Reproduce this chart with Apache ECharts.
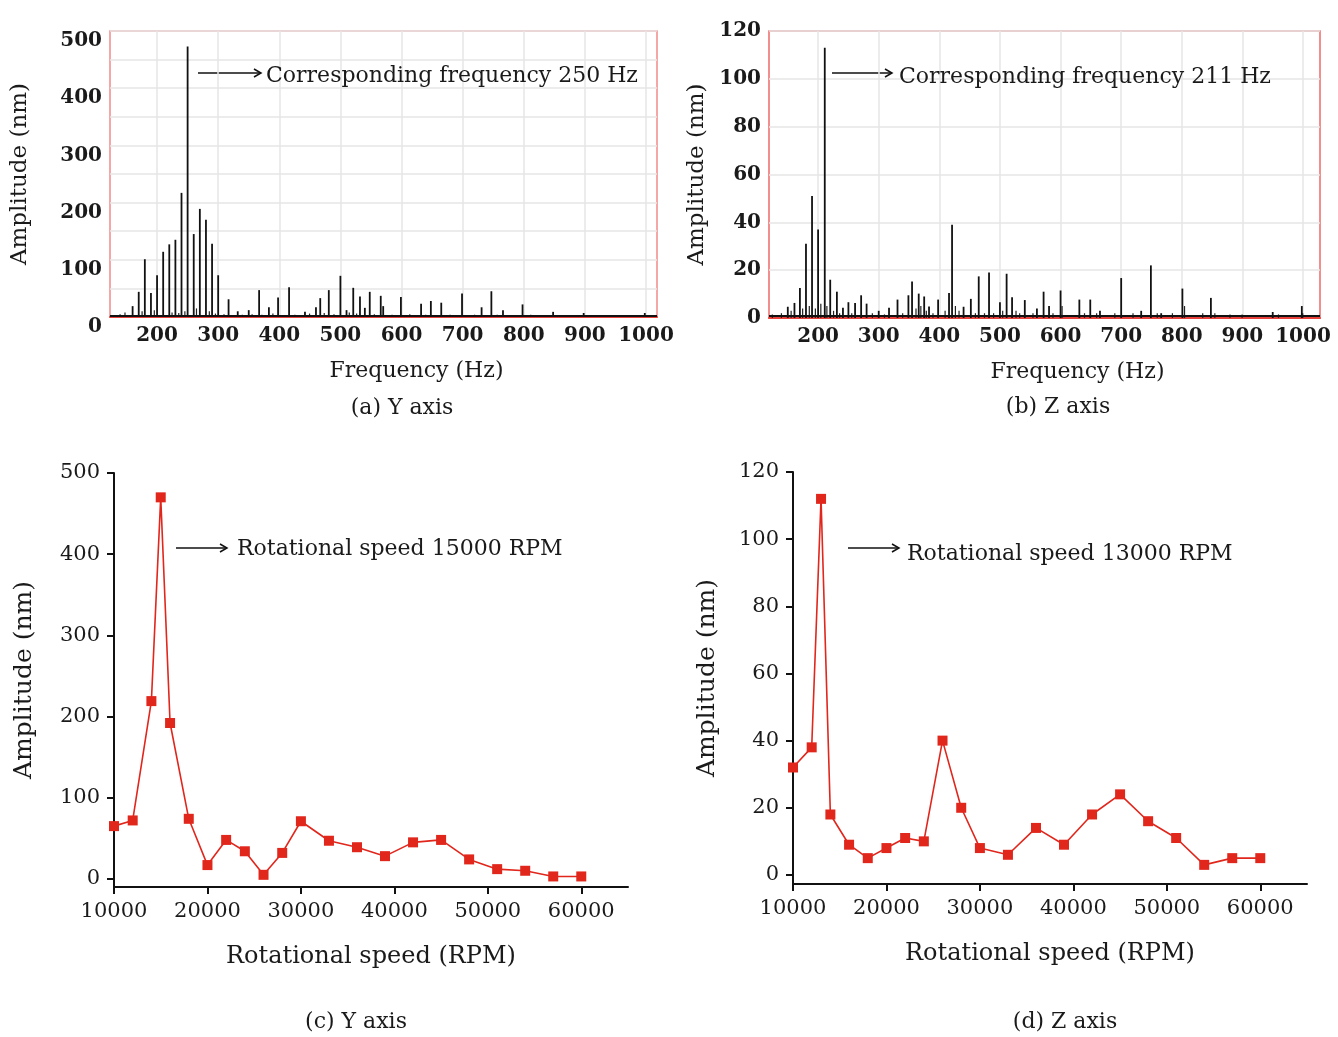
<!DOCTYPE html>
<html>
<head>
<meta charset="utf-8">
<title>Vibration amplitude</title>
<script src="https://cdn.jsdelivr.net/npm/echarts@6/dist/echarts.min.js"></script>
<style>
  html, body { margin: 0; padding: 0; background: #fff; }
  #chart { width: 1338px; height: 1037px; }
</style>
</head>
<body>
<div id="chart"></div>
<script>
// (a) Y axis spectrum: main spikes [frequency Hz, amplitude nm]
const peaksA = [
  [160, 19], [170, 44], [180, 101], [190, 42], [200, 73], [210, 114], [220, 127],
  [230, 135], [240, 217], [250, 473], [260, 145], [270, 189], [280, 170], [290, 128],
  [300, 73], [317, 31], [332, 10], [350, 12], [367, 47], [383, 17], [398, 34],
  [416, 52], [442, 9], [460, 17], [467, 33], [481, 47], [500, 72], [510, 12],
  [521, 51], [532, 36], [540, 16], [548, 44], [566, 37], [570, 19], [599, 35],
  [632, 23], [648, 28], [665, 25], [699, 41], [731, 17], [747, 45], [766, 12],
  [798, 22], [848, 9], [898, 7], [998, 7]
];
// (a) small clutter along the floor
const floorA = [
  [128, 3], [140, 5], [148, 8], [176, 10], [196, 12], [225, 8], [236, 7], [246, 10],
  [265, 15], [286, 10], [296, 6], [310, 5], [340, 4], [356, 5], [372, 4], [390, 6],
  [426, 4], [450, 6], [474, 7], [490, 5], [515, 8], [527, 6], [556, 5], [585, 4],
  [614, 5], [640, 4], [656, 3], [680, 4], [708, 3], [720, 4], [757, 4], [782, 3],
  [812, 4], [830, 3], [870, 3], [925, 3], [950, 3], [975, 3], [1010, 3]
];
const noiseLevelA = 3;

// (b) Z axis spectrum
const peaksB = [
  [150, 4.7], [161, 6.3], [170, 12.5], [180, 31], [190, 51], [200, 37], [211, 113],
  [220, 16], [231, 11], [241, 4.3], [250, 6.6], [261, 6.3], [271, 9.5], [280, 6],
  [300, 3], [317, 4.3], [331, 7.7], [349, 9.5], [355, 15.3], [366, 10.2], [375, 9],
  [383, 4.8], [398, 7.7], [416, 10.5], [421, 39], [440, 4.7], [452, 8], [465, 17.4],
  [482, 19], [500, 6.6], [511, 18.5], [520, 8.7], [541, 7.5], [561, 4], [572, 11],
  [581, 5], [600, 11.5], [631, 7.7], [649, 7.7], [665, 3], [700, 16.7], [733, 3],
  [749, 22], [766, 2], [801, 12.3], [848, 8.4], [950, 2.5], [998, 5]
];
const floorB = [
  [125, 1.5], [140, 2], [156, 3], [175, 4], [186, 5], [196, 4], [205, 6], [215, 5],
  [226, 3], [236, 2], [256, 2], [290, 2], [310, 1.5], [340, 2], [362, 4], [370, 5],
  [379, 3], [390, 2], [410, 3], [427, 5], [433, 3], [460, 2], [475, 2], [490, 2],
  [505, 3], [527, 3], [533, 2], [555, 2], [588, 2], [603, 5], [640, 2], [660, 2],
  [690, 2], [720, 2], [760, 2], [785, 2], [805, 5], [835, 2], [855, 2], [880, 1.5],
  [900, 1.5], [960, 1.5], [1000, 2]
];
const noiseLevelB = 0.8;

const freqTicks = [200, 300, 400, 500, 600, 700, 800, 900, 1000];

// (c), (d) amplitude vs rotational speed
const speedY = [10000, 12000, 14000, 15000, 16000, 18000, 20000, 22000, 24000, 26000, 28000,
  30000, 33000, 36000, 39000, 42000, 45000, 48000, 51000, 54000, 57000, 60000];
const ampY = [65, 72, 219, 470, 192, 74, 17, 48, 34, 5, 32, 71, 47, 39, 28, 45, 48, 24, 12, 10, 3, 3];

const speedZ = [10000, 12000, 13000, 14000, 16000, 18000, 20000, 22000, 24000, 26000, 28000,
  30000, 33000, 36000, 39000, 42000, 45000, 48000, 51000, 54000, 57000, 60000];
const ampZ = [32, 38, 112, 18, 9, 5, 8, 11, 10, 40, 20, 8, 6, 14, 9, 18, 24, 16, 11, 3, 5, 5];

const speedTicks = [10000, 20000, 30000, 40000, 50000, 60000];
const ampTicksY = [0, 100, 200, 300, 400, 500];
const ampTicksZ = [0, 20, 40, 60, 80, 100, 120];

const FONT = "DejaVu Serif";
const INK = "#1a1a1a";
const RED = "#e1261c";
const plain = (v) => String(v);

function zip(xs, ys) {
  return xs.map((x, i) => [x, ys[i]]);
}

function spectrumX(idx, min, max) {
  return {
    gridIndex: idx, type: "value", min: min, max: max,
    name: "Frequency (Hz)", nameLocation: "middle", nameGap: 43,
    nameTextStyle: { fontFamily: FONT, fontSize: 22, color: INK, padding: [0, 0, 0, 66] },
    axisLine: { show: true, lineStyle: { color: "#e8403a", width: 2 } },
    axisTick: { show: false, customValues: freqTicks },
    axisLabel: { customValues: freqTicks, formatter: plain, margin: 9, fontFamily: FONT, fontWeight: "bold", fontSize: 20, color: INK },
    splitLine: { show: true, lineStyle: { color: "#e6e6e6", width: 1.5 } }
  };
}

function speedX(idx) {
  return {
    gridIndex: idx, type: "value", min: 10000, max: 65000,
    name: "Rotational speed (RPM)", nameLocation: "middle", nameGap: 58,
    nameTextStyle: { fontFamily: FONT, fontSize: 24, color: INK },
    axisLine: { show: true, onZero: false, lineStyle: { color: "#111", width: 2 } },
    axisTick: { show: true, customValues: speedTicks, length: 7, lineStyle: { color: "#111", width: 2 } },
    axisLabel: { customValues: speedTicks, formatter: plain, margin: 14, fontFamily: FONT, fontSize: 21, color: INK },
    splitLine: { show: false }
  };
}

function ampAxis(idx, min, max, ticks, gap) {
  return {
    gridIndex: idx, type: "value", min: min, max: max,
    name: "Amplitude (nm)", nameLocation: "middle", nameGap: gap,
    nameTextStyle: { fontFamily: FONT, fontSize: 25, color: INK },
    axisLine: { show: true, lineStyle: { color: "#111", width: 2 } },
    axisTick: { show: true, customValues: ticks, length: 7, lineStyle: { color: "#111", width: 2 } },
    axisLabel: { customValues: ticks, formatter: plain, margin: 14, fontFamily: FONT, fontSize: 21, color: INK },
    splitLine: { show: false }
  };
}

function spikes(idx, data, width, color) {
  return {
    type: "bar", xAxisIndex: idx, yAxisIndex: idx, data: data,
    barWidth: width, barGap: "-100%", silent: true, animation: false,
    itemStyle: { color: color }
  };
}

function arrow(x1, x2, y) {
  return {
    type: "group", z: 100,
    children: [
      { type: "line", shape: { x1: x1, y1: y, x2: x2, y2: y }, style: { stroke: "#111", lineWidth: 1.5 } },
      { type: "polyline", shape: { points: [[x2 - 7, y - 4], [x2, y], [x2 - 7, y + 4]] },
        style: { stroke: "#111", lineWidth: 1.5, fill: null } }
    ]
  };
}

function label(text, x, y, size, align) {
  return {
    type: "text", x: x, y: y, z: 100,
    style: { text: text, fontFamily: FONT, fontSize: size, fill: INK, align: align || "center", verticalAlign: "middle" }
  };
}

const chart = echarts.init(document.getElementById("chart"));

chart.setOption({
  animation: false,
  backgroundColor: "#fff",
  grid: [
    { left: 110, top: 31, width: 547, height: 286, show: true, borderColor: "#f28b8b", borderWidth: 1.5, outerBoundsMode: "none" },
    { left: 769, top: 31, width: 551, height: 287, show: true, borderColor: "#ee6a6a", borderWidth: 1.5, outerBoundsMode: "none" },
    { left: 114, top: 473, width: 514, height: 414, outerBoundsMode: "none" },
    { left: 793, top: 472, width: 514, height: 412, outerBoundsMode: "none" }
  ],
  xAxis: [
    spectrumX(0, 123, 1018),
    spectrumX(1, 119, 1028),
    speedX(2),
    speedX(3)
  ],
  yAxis: [
    {
      gridIndex: 0, type: "value", min: 0, max: 500, interval: 100,
      name: "Amplitude (nm)", nameLocation: "middle", nameGap: 78,
      nameTextStyle: { fontFamily: FONT, fontSize: 23, color: INK },
      axisLine: { show: false }, axisTick: { show: false },
      axisLabel: { margin: 8, verticalAlign: "top", fontFamily: FONT, fontWeight: "bold", fontSize: 20, color: INK },
      splitLine: { show: true, lineStyle: { color: "#e6e6e6", width: 1.5 } },
      minorTick: { show: false, splitNumber: 2 },
      minorSplitLine: { show: true, lineStyle: { color: "#e6e6e6", width: 1.5 } }
    },
    {
      gridIndex: 1, type: "value", min: 0, max: 120, interval: 20,
      name: "Amplitude (nm)", nameLocation: "middle", nameGap: 60,
      nameTextStyle: { fontFamily: FONT, fontSize: 23, color: INK },
      axisLine: { show: false }, axisTick: { show: false },
      axisLabel: { margin: 8, fontFamily: FONT, fontWeight: "bold", fontSize: 20, color: INK },
      splitLine: { show: true, lineStyle: { color: "#e6e6e6", width: 1.5 } }
    },
    ampAxis(2, -10, 500, ampTicksY, 77),
    ampAxis(3, -2.7, 120, ampTicksZ, 73)
  ],
  series: [
    spikes(0, floorA, 1.2, "#222"),
    Object.assign(spikes(0, peaksA, 1.8, "#111"), {
      markLine: {
        silent: true, symbol: "none", label: { show: false },
        lineStyle: { color: "#111", width: 2, type: "solid" },
        data: [{ yAxis: noiseLevelA }]
      }
    }),
    spikes(1, floorB, 1.2, "#222"),
    Object.assign(spikes(1, peaksB, 1.8, "#111"), {
      markLine: {
        silent: true, symbol: "none", label: { show: false },
        lineStyle: { color: "#111", width: 2, type: "solid" },
        data: [{ yAxis: noiseLevelB }]
      }
    }),
    {
      type: "line", xAxisIndex: 2, yAxisIndex: 2, data: zip(speedY, ampY),
      symbol: "rect", symbolSize: 10, color: RED,
      lineStyle: { color: RED, width: 1.6 }, itemStyle: { color: RED }
    },
    {
      type: "line", xAxisIndex: 3, yAxisIndex: 3, data: zip(speedZ, ampZ),
      symbol: "rect", symbolSize: 10, color: RED,
      lineStyle: { color: RED, width: 1.6 }, itemStyle: { color: RED }
    }
  ],
  graphic: [
    arrow(198, 261, 73),
    label("Corresponding frequency 250 Hz", 266, 76, 22, "left"),
    arrow(832, 892, 73),
    label("Corresponding frequency 211 Hz", 899, 77, 22, "left"),
    arrow(176, 227, 548),
    label("Rotational speed 15000 RPM", 237, 549, 22, "left"),
    arrow(848, 899, 548),
    label("Rotational speed 13000 RPM", 907, 554, 22, "left"),
    label("(a) Y axis", 402, 408, 22),
    label("(b) Z axis", 1058, 407, 22),
    label("(c) Y axis", 356, 1022, 22),
    label("(d) Z axis", 1065, 1022, 22)
  ]
});
</script>
</body>
</html>
